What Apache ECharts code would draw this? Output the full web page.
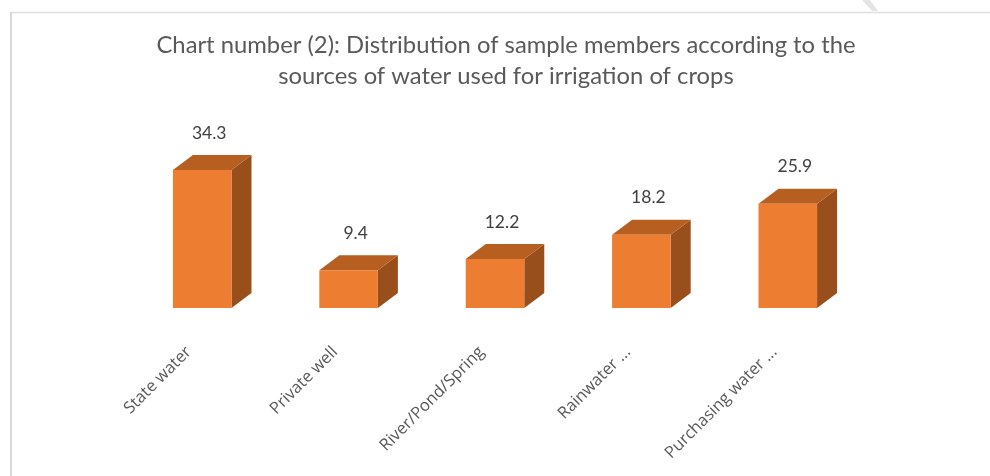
<!DOCTYPE html>
<html>
<head>
<meta charset="utf-8">
<script src="https://cdn.jsdelivr.net/npm/echarts@6/dist/echarts.min.js"></script>
<style>html,body{margin:0;padding:0;background:#fff;}#c{width:990px;height:476px;}</style>
</head>
<body>
<div id="c"></div>
<script>
const titleText = "Chart number (2): Distribution of sample members according to the\nsources of water used for irrigation of crops";
const categories = ["State water", "Private well", "River/Pond/Spring", "Rainwater ...", "Purchasing water ..."];
const values = [34.3, 9.4, 12.2, 18.2, 25.9];

const chart = echarts.init(document.getElementById('c'), null, {renderer: 'canvas'});
const FRONT = '#ED7D31', TOP = '#B75F20', SIDE = '#994F1B';
const DX = 20, DY = 15;

chart.setOption({
  backgroundColor: '#ffffff',
  animation: false,
  title: {
    text: titleText,
    left: 501,
    textAlign: 'center',
    top: 25,
    textStyle: {fontFamily: 'Lato', fontSize: 23.8, fontWeight: 'normal', color: '#595959', lineHeight: 31}
  },
  grid: {left: 129, right: 129, top: 147, bottom: 168},
  xAxis: {
    type: 'category',
    data: categories,
    axisLine: {show: false},
    axisTick: {show: false},
    axisLabel: {rotate: 45, margin: 28, interval: 0, padding: [0, 19, 0, 0], fontFamily: 'Open Sans', fontSize: 16.5, color: '#595959'}
  },
  yAxis: {
    type: 'value', min: 0, max: 40, interval: 10,
    show: false, splitLine: {show: false}
  },
  series: [{
    type: 'custom',
    data: values.map((v, i) => [i, v]),
    encode: {x: 0, y: 1},
    renderItem: function (params, api) {
      const v = api.value(1);
      const top = api.coord([api.value(0), v]);
      const base = api.coord([api.value(0), 0]);
      const bw = api.size([1, 0])[0] * 0.4;
      const x = top[0] - bw / 2;
      const yt = top[1], yb = base[1];
      return {
        type: 'group',
        children: [
          {type: 'polygon', shape: {points: [[x + bw, yt], [x + bw + DX, yt - DY], [x + bw + DX, yb - DY], [x + bw, yb]]}, style: {fill: SIDE}},
          {type: 'polygon', shape: {points: [[x, yt], [x + DX, yt - DY], [x + bw + DX, yt - DY], [x + bw, yt]]}, style: {fill: TOP}},
          {type: 'rect', shape: {x: x, y: yt, width: bw, height: yb - yt}, style: {fill: FRONT}},
          {type: 'text', x: top[0] + 7, y: yt - 37, style: {text: String(v), textAlign: 'center', textVerticalAlign: 'middle', fontFamily: 'Lato', fontSize: 17.5, fill: '#404040'}}
        ]
      };
    }
  }],
  graphic: [
    {type: 'line', shape: {x1: 11, y1: 12, x2: 11, y2: 476}, style: {stroke: '#d9d9d9', lineWidth: 2}},
    {type: 'line', shape: {x1: 11, y1: 12.5, x2: 990, y2: 12.5}, style: {stroke: '#dedede', lineWidth: 1.5}},
    {type: 'polygon', shape: {points: [[862, 0], [870, 0], [878, 11], [872, 11]]}, style: {fill: '#e4e4e4'}}
  ]
});
</script>
</body>
</html>
